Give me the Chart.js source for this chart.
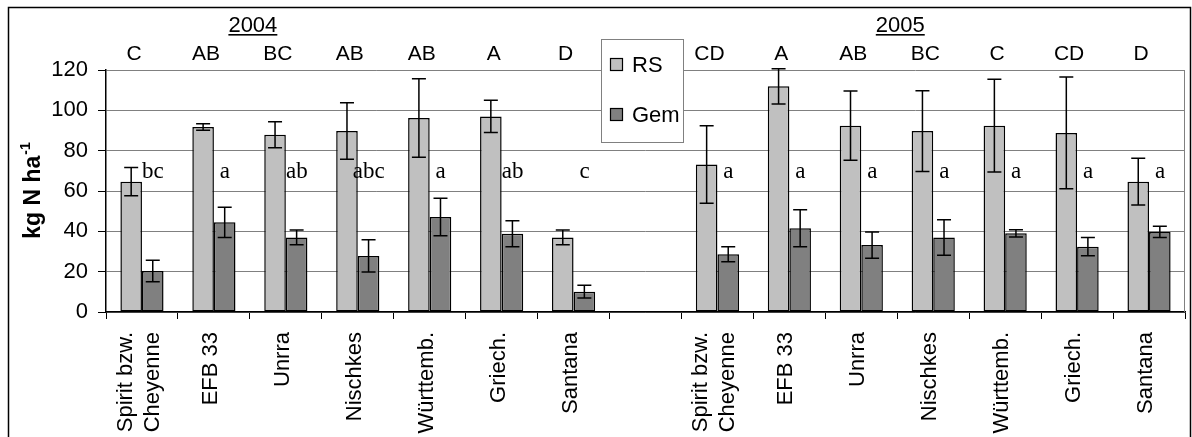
<!DOCTYPE html>
<html>
<head>
<meta charset="utf-8">
<script src="https://cdn.jsdelivr.net/npm/chart.js@4"></script>
<style>
  html, body { margin: 0; padding: 0; background: #fff; }
  #wrap { width: 1192px; height: 437px; position: relative; }
</style>
</head>
<body>
<div id="wrap"><canvas id="chart"></canvas></div>
<script>
// values (kg N / ha), empty slot separates 2004 and 2005
const categories = [['Spirit bzw.', 'Cheyenne'], 'EFB 33', 'Unrra', 'Nischkes', 'Württemb.', 'Griech.', 'Santana', '',
                    ['Spirit bzw.', 'Cheyenne'], 'EFB 33', 'Unrra', 'Nischkes', 'Württemb.', 'Griech.', 'Santana'];
const rsValues  = [64.6, 91.7, 87.9, 89.7, 96.2, 97.0, 37.0, null, 73.1, 111.9, 92.4, 89.7, 92.4, 88.8, 64.6];
const rsErrors  = [7.0, 1.6, 6.4, 14.0, 19.5, 8.0, 3.7, null, 19.2, 8.7, 17.2, 20.0, 23.0, 27.7, 11.6];
const gemValues = [20.3, 44.5, 37.0, 27.8, 47.1, 38.8, 10.1, null, 28.6, 41.5, 33.2, 37.0, 39.0, 32.4, 39.7];
const gemErrors = [5.3, 7.5, 3.7, 8.0, 9.3, 6.4, 3.2, null, 3.7, 9.2, 6.5, 8.8, 1.8, 4.5, 2.8];
const rsLetters  = ['C', 'AB', 'BC', 'AB', 'AB', 'A', 'D', '', 'CD', 'A', 'AB', 'BC', 'C', 'CD', 'D'];
const gemLetters = ['bc', 'a', 'ab', 'abc', 'a', 'ab', 'c', '', 'a', 'a', 'a', 'a', 'a', 'a', 'a'];
const years = ['2004', '2005'];
const yearAfter = [1, 10]; // year label sits between this category and the next
const seriesNames = ['RS', 'Gem'];
const seriesColors = ['#c0c0c0', '#808080'];

const SANS = '"Liberation Sans", Arial, sans-serif';
const SERIF = '"Liberation Serif", "Times New Roman", serif';

// error bars, letters, legend, axis title, category labels, frame
const extras = {
  id: 'extras',
  beforeDatasetsDraw(chart) {
    const ctx = chart.ctx, a = chart.chartArea;
    ctx.save();
    ctx.strokeStyle = '#808080';
    ctx.lineWidth = 1;
    ctx.beginPath();
    ctx.moveTo(a.right - 0.5, a.top);
    ctx.lineTo(a.right - 0.5, a.bottom);
    ctx.stroke();
    ctx.restore();
  },
  afterDatasetsDraw(chart) {
    const ctx = chart.ctx, y = chart.scales.y;
    const errs = [rsErrors, gemErrors];
    ctx.save();
    ctx.strokeStyle = '#000';
    ctx.lineWidth = 1.5;
    chart.data.datasets.forEach((ds, di) => {
      chart.getDatasetMeta(di).data.forEach((bar, i) => {
        const v = ds.data[i], e = errs[di][i];
        if (v == null || e == null) return;
        const top = y.getPixelForValue(v + e), bot = y.getPixelForValue(v - e);
        ctx.beginPath();
        ctx.moveTo(bar.x, top); ctx.lineTo(bar.x, bot);
        ctx.moveTo(bar.x - 7, top); ctx.lineTo(bar.x + 7, top);
        ctx.moveTo(bar.x - 7, bot); ctx.lineTo(bar.x + 7, bot);
        ctx.stroke();
      });
    });
    ctx.restore();
  },
  afterDraw(chart) {
    const ctx = chart.ctx, a = chart.chartArea, x = chart.scales.x, y = chart.scales.y;
    ctx.save();
    ctx.fillStyle = '#000';
    ctx.textBaseline = 'alphabetic';

    // letters above the plot and next to the bars
    categories.forEach((c, i) => {
      const cx = x.getPixelForValue(i);
      ctx.textAlign = 'center';
      ctx.font = '21px ' + SANS;
      ctx.fillText(rsLetters[i], cx - 8, a.top - 10);
      ctx.font = '23px ' + SERIF;
      ctx.fillText(gemLetters[i], cx + 11, y.getPixelForValue(66.5));
    });

    // category labels, rotated, ending just under the axis
    ctx.font = '22px ' + SANS;
    ctx.textBaseline = 'middle';
    ctx.textAlign = 'right';
    categories.forEach((c, i) => {
      const lines = Array.isArray(c) ? c : [c];
      const cx = x.getPixelForValue(i) - 3;
      lines.forEach((ln, k) => {
        const off = (k - (lines.length - 1) / 2) * 27;
        ctx.save();
        ctx.translate(cx + off, a.bottom + 20);
        ctx.rotate(-Math.PI / 2);
        ctx.fillText(ln, 0, 0);
        ctx.restore();
      });
    });
    ctx.textBaseline = 'alphabetic';

    // years, underlined
    ctx.font = '22px ' + SANS;
    years.forEach((yr, k) => {
      const cx = (x.getPixelForValue(yearAfter[k]) + x.getPixelForValue(yearAfter[k] + 1)) / 2 + 3;
      ctx.textAlign = 'center';
      ctx.fillText(yr, cx, 32);
      const w = ctx.measureText(yr).width;
      ctx.fillRect(cx - w / 2, 34, w, 1.6);
    });

    // legend box
    const lx = 601, ly = 39, lw = 82, lh = 103;
    ctx.fillStyle = '#fff';
    ctx.fillRect(lx, ly, lw, lh);
    ctx.strokeStyle = '#808080';
    ctx.lineWidth = 1;
    ctx.strokeRect(lx + 0.5, ly + 0.5, lw, lh);
    ctx.font = '22px ' + SANS;
    ctx.textAlign = 'left';
    seriesNames.forEach((n, k) => {
      const by = 58 + k * 50;
      ctx.fillStyle = seriesColors[k];
      ctx.fillRect(610, by, 13, 13);
      ctx.strokeStyle = '#000';
      ctx.lineWidth = 1.2;
      ctx.strokeRect(610.5, by + 0.5, 12, 12);
      ctx.fillStyle = '#000';
      ctx.fillText(n, 632, by + 14);
    });

    // y axis title with superscript
    ctx.translate(40, (a.top + a.bottom) / 2);
    ctx.rotate(-Math.PI / 2);
    ctx.font = 'bold 23px ' + SANS;
    const main = 'kg N ha';
    const mw = ctx.measureText(main).width;
    ctx.font = 'bold 14px ' + SANS;
    const sw = ctx.measureText('-1').width;
    const start = -(mw + sw) / 2;
    ctx.font = 'bold 23px ' + SANS;
    ctx.textAlign = 'left';
    ctx.fillText(main, start, 0);
    ctx.font = 'bold 14px ' + SANS;
    ctx.fillText('-1', start + mw + 1, -10);
    ctx.setTransform(1, 0, 0, 1, 0, 0);

    // outer frame
    ctx.strokeStyle = '#000';
    ctx.lineWidth = 1.5;
    ctx.strokeRect(8.5, 7.5, 1182, 450);
    ctx.restore();
  }
};

new Chart(document.getElementById('chart'), {
  type: 'bar',
  data: {
    labels: categories,
    datasets: [
      { label: seriesNames[0], data: rsValues, backgroundColor: seriesColors[0] },
      { label: seriesNames[1], data: gemValues, backgroundColor: seriesColors[1] }
    ]
  },
  options: {
    responsive: true,
    maintainAspectRatio: false,
    animation: false,
    layout: { padding: { top: 70, right: 7, left: 0, bottom: 0 } },
    datasets: {
      bar: { categoryPercentage: 0.6, barPercentage: 1, borderColor: '#000', borderWidth: 1.5, borderSkipped: false }
    },
    plugins: { legend: { display: false }, tooltip: { enabled: false } },
    scales: {
      x: {
        offset: true,
        grid: { display: true, drawOnChartArea: false, drawTicks: true, tickLength: 7, tickColor: '#000', offset: true },
        border: { color: '#000', width: 1.5 },
        ticks: { display: false },
        afterFit(scale) { scale.height = 125; }
      },
      y: {
        min: 0, max: 120,
        grid: { color: '#808080', lineWidth: 1, tickLength: 8, tickColor: '#000' },
        border: { color: '#000', width: 1.5 },
        ticks: { stepSize: 20, color: '#000', font: { family: SANS, size: 22 }, padding: 10 },
        afterFit(scale) { scale.width = 106; }
      }
    }
  },
  plugins: [extras]
});
</script>
</body>
</html>
